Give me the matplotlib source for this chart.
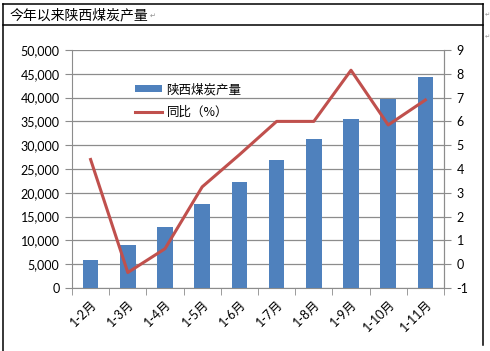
import matplotlib.pyplot as plt
from matplotlib.lines import Line2D
from matplotlib.ticker import FuncFormatter, MultipleLocator

# data
months = ["1-2月", "1-3月", "1-4月", "1-5月", "1-6月", "1-7月", "1-8月", "1-9月", "1-10月", "1-11月"]
output = [5900, 9000, 12800, 17700, 22300, 26900, 31300, 35500, 39800, 44300]
yoy = [4.4, -0.35, 0.65, 3.25, 4.6, 6.0, 6.0, 8.15, 5.85, 6.9]

bar_color = "#4F81BD"
line_color = "#C0504D"
grid_color = "#8C8C8C"

plt.rcParams["font.family"] = ["Lato", "Noto Sans CJK SC", "DejaVu Sans"]
plt.rcParams["axes.unicode_minus"] = False

W, H = 490, 351
fig = plt.figure(figsize=(W / 100, H / 100), dpi=100)


def fx(px):
    return px / W


def fy(py):
    return 1 - py / H


# word-table style frame around the chart
for xs, ys in [((3, 483), (4, 4)), ((3, 483), (25, 25)), ((3, 3), (4, 351)), ((483, 483), (4, 345))]:
    fig.add_artist(Line2D([fx(x) for x in xs], [fy(y) for y in ys], color="black", lw=1.1))

fig.text(fx(10), fy(15), "今年以来陕西煤炭产量", fontsize=10, va="center", ha="left",
         family=["Noto Sans CJK SC", "DejaVu Sans"])
fig.text(fx(150), fy(16), "↵", fontsize=5, color="#909090", va="center", family=["DejaVu Sans"])
for py in (15, 37):
    fig.text(fx(484.5), fy(py), "↵", fontsize=4.5, color="#909090", va="center", family=["DejaVu Sans"])

ax = fig.add_axes([fx(72), fy(288), fx(444) - fx(72), fy(50) - fy(288)])
x = list(range(len(months)))
bars = ax.bar(x, output, width=0.42, color=bar_color, zorder=3, label="陕西煤炭产量")
ax.set_xlim(-0.5, len(months) - 0.5)
ax.set_ylim(0, 50000)
ax.yaxis.set_major_locator(MultipleLocator(5000))
ax.yaxis.set_major_formatter(FuncFormatter(lambda v, p: f"{int(v):,}"))
ax.grid(axis="y", color=grid_color, lw=0.9, zorder=0)

ax.set_xticks(x)
ax.set_xticklabels(months, rotation=45, ha="right", va="top", rotation_mode="anchor", fontsize=9)
ax.tick_params(axis="x", which="major", length=0, pad=7)
ax.set_xticks([i - 0.5 for i in range(len(months) + 1)], minor=True)
ax.tick_params(axis="x", which="minor", length=5, color=grid_color, direction="out")
ax.tick_params(axis="y", length=5, color=grid_color, labelsize=9, pad=4)

ax.spines["top"].set_visible(False)
for s in ("left", "bottom", "right"):
    ax.spines[s].set_color(grid_color)

ax2 = ax.twinx()
ln, = ax2.plot(x, yoy, color=line_color, lw=2.2, zorder=4, label="同比（%）")
ax2.set_ylim(-1, 9)
ax2.yaxis.set_major_locator(MultipleLocator(1))
ax2.tick_params(axis="y", length=5, color=grid_color, labelsize=9, pad=4)
for s in ("top", "left", "bottom"):
    ax2.spines[s].set_visible(False)
ax2.spines["right"].set_color(grid_color)

fig.legend([bars, ln], ["陕西煤炭产量", "同比（%）"], loc="upper left",
           bbox_to_anchor=(fx(124), fy(72)), frameon=False,
           handlelength=2.1, handleheight=0.5, handletextpad=0.4, labelspacing=0.75,
           prop={"family": ["Noto Sans CJK SC", "DejaVu Sans"], "size": 9})

fig.savefig("out.png", dpi=100)
